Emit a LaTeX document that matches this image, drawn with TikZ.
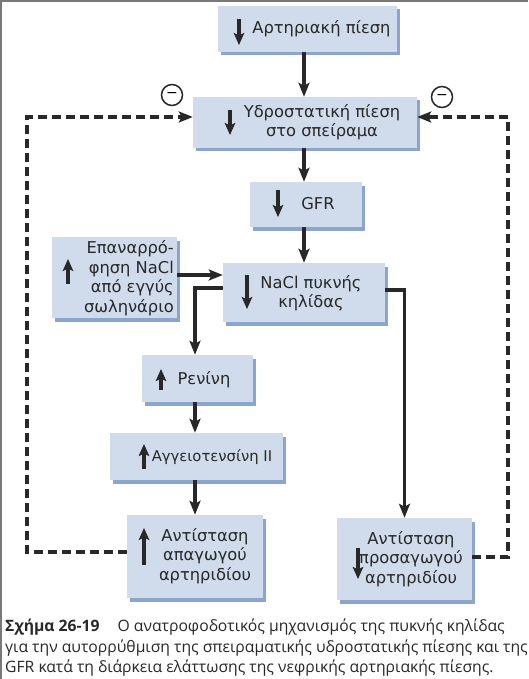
\documentclass[tikz,border=0pt]{standalone}
\usepackage{fontspec}
\setmainfont{DejaVu Sans}
\newfontfamily\capfont{Open Sans}
\usetikzlibrary{arrows.meta,shadows,calc}
\definecolor{boxfill}{RGB}{208,220,236}
\definecolor{shadowc}{RGB}{140,165,205}
\definecolor{ink}{RGB}{40,40,40}
\definecolor{framec}{RGB}{120,120,120}
\tikzset{
  box/.style={fill=boxfill, draw=none, inner sep=0pt,
    drop shadow={shadow xshift=3pt, shadow yshift=-3.5pt, fill=shadowc, opacity=1}},
  txt/.style={font=\fontsize{16.3}{19.5}\selectfont, text=ink, inner sep=0pt, align=center},
  conn/.style={draw=ink, line width=3.1pt, -{Stealth[length=14pt,width=11pt,inset=3pt]}},
  fb/.style={draw=ink, line width=3.2pt, dash pattern=on 9pt off 5pt},
  inarr/.style={draw=ink, line width=3.2pt, -{Stealth[length=12pt,width=10.5pt,inset=2.5pt]}},
  minus/.style={circle, draw=ink, line width=1.5pt, minimum size=21pt, inner sep=0pt, fill=white},
  captxt/.style={font=\capfont\fontsize{15.7}{18}\selectfont, text=ink, inner sep=0pt, anchor=base west}
}
\begin{document}
\begin{tikzpicture}[x=1pt,y=-1pt]
\useasboundingbox (0,0) rectangle (528,679);
\fill[white] (0,0) rectangle (528,679);
\draw[framec, line width=2.5pt] (1,679) -- (1,1) -- (528,1);

% boxes
\node[box, minimum width=179pt, minimum height=46pt] (b1) at (307.5,29) {};
\node[box, minimum width=224pt, minimum height=51pt] (b2) at (305,122.5) {};
\node[box, minimum width=112pt, minimum height=45pt] (gfr) at (306,204.5) {};
\node[box, minimum width=162pt, minimum height=59pt] (nacl) at (304,292.5) {};
\node[box, minimum width=125pt, minimum height=81pt] (ep) at (114.5,277.5) {};
\node[box, minimum width=111pt, minimum height=47pt] (ren) at (197.5,378.5) {};
\node[box, minimum width=173pt, minimum height=47pt] (ang) at (196.5,456.5) {};
\node[box, minimum width=136pt, minimum height=83pt] (apag) at (195,556.5) {};
\node[box, minimum width=135pt, minimum height=82pt] (pros) at (404.5,559) {};

% texts
\node[txt] (b1t) at (321.5,29) {Αρτηριακή πίεση};
\node[txt] (b2t) at (322,122) {Υδροστατική πίεση\\στο σπείραμα};
\node[txt] (gfrt) at (318,204) {GFR};
\node[txt] (naclt) at (311,293) {NaCl πυκνής\\κηλίδας};
\node[txt, align=right, anchor=east] (ept) at (174,278) {Επαναρρό-\\φηση NaCl\\από εγγύς\\σωληνάριο};
\node[txt] (rent) at (204,380) {Ρενίνη};
\node[txt, font=\fontsize{14.8}{19}\selectfont] (angt) at (212,457) {Αγγειοτενσίνη II};
\node[txt] (apagt) at (205,556) {Αντίσταση\\απαγωγού\\αρτηριδίου};
\node[txt] (prost) at (411,559) {Αντίσταση\\προσαγωγού\\αρτηριδίου};

% arrows inside boxes
\draw[inarr] (239,19) -- (239,45);
\draw[inarr] (230,110) -- (230,135);
\draw[inarr] (278,190) -- (278,217);
\draw[inarr] (247,275) -- (247,309);
\draw[inarr] (68,284) -- (68,259);
\draw[inarr] (161,390) -- (161,369);
\draw[inarr] (144,469) -- (144,444);
\draw[inarr] (144,565) -- (144,528);
\draw[inarr] (358,548) -- (358,579);

% main connectors
\coordinate (ax) at (304,0);
\draw[conn] (b1.south -| ax) -- (b2.north -| ax);
\draw[conn] (b2.south -| ax) -- (gfr.north -| ax);
\draw[conn] (gfr.south -| ax) -- (nacl.north -| ax);
\coordinate (ya) at (0,275);
\draw[conn] (ep.east |- ya) -- (nacl.west |- ya);
\coordinate (yb) at (0,288);
\coordinate (xr) at (195,0);
\draw[conn] (nacl.west |- yb) -| (ren.north -| xr);
\draw[conn] (ren.south -| xr) -- (ang.north -| xr);
\draw[conn] (ang.south -| xr) -- (apag.north -| xr);
\coordinate (yc) at (0,290);
\draw[conn] (nacl.east |- yc) -| (pros.north);

% feedback dashed
\coordinate (lx) at (27,0);
\coordinate (rx) at (508,0);
\coordinate (ytop) at (0,117);
\coordinate (yl) at (0,552);
\coordinate (yr) at (0,557);
\draw[fb] (apag.west |- yl) -| (lx |- ytop) -- ([xshift=-13pt]b2.west |- ytop);
\draw[conn] ([xshift=-15pt]b2.west |- ytop) -- (b2.west |- ytop);
\draw[fb] (pros.east |- yr) -| (rx |- ytop) -- ([xshift=13pt]b2.east |- ytop);
\draw[conn] ([xshift=15pt]b2.east |- ytop) -- (b2.east |- ytop);

\node[minus] (m1) at (172,95) {\fontsize{14}{14}\selectfont −};
\node[minus] (m2) at (442,97) {\fontsize{14}{14}\selectfont −};

% caption
\node[captxt] (c1) at (5,631) {\textbf{Σχήμα 26-19}\hspace{18pt}Ο ανατροφοδοτικός μηχανισμός της πυκνής κηλίδας};
\node[captxt] (c2) at (5,652) {για την αυτορρύθμιση της σπειραματικής υδροστατικής πίεσης και της};
\node[captxt] (c3) at (5,672) {GFR κατά τη διάρκεια ελάττωσης της νεφρικής αρτηριακής πίεσης.};
\end{tikzpicture}
\end{document}
